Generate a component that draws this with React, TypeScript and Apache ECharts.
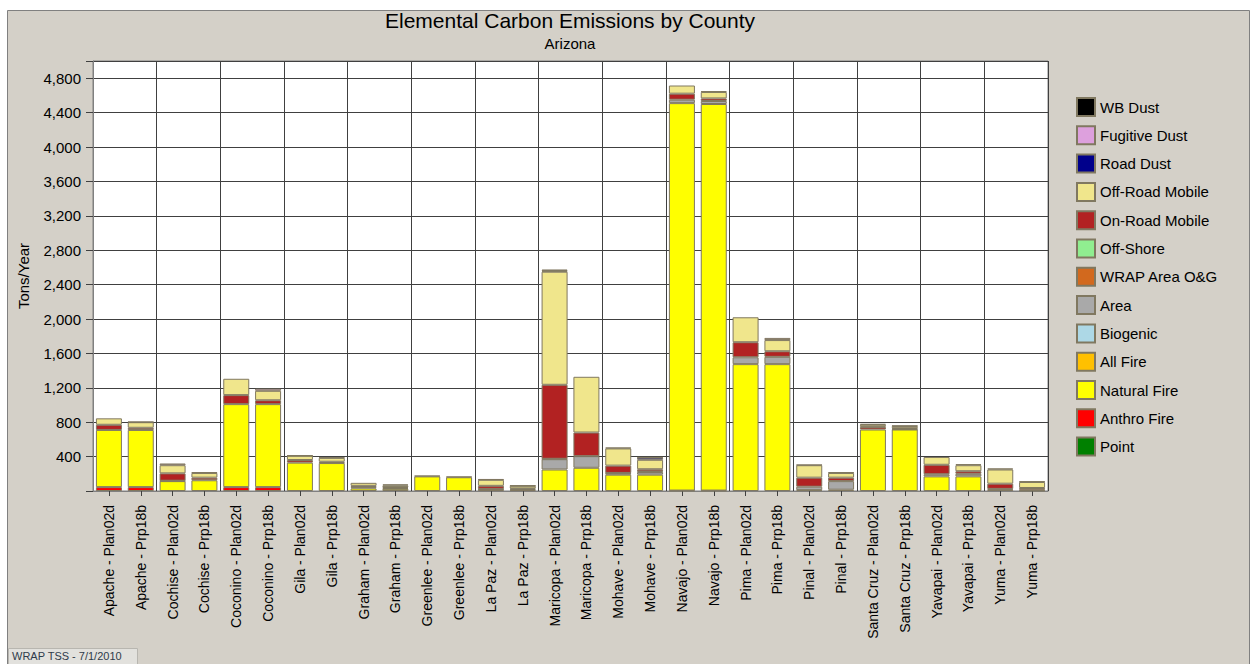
import React, { useEffect, useRef } from "react";
import * as echarts from "echarts";

const categories = [
  "Apache - Plan02d", "Apache - Prp18b",
  "Cochise - Plan02d", "Cochise - Prp18b",
  "Coconino - Plan02d", "Coconino - Prp18b",
  "Gila - Plan02d", "Gila - Prp18b",
  "Graham - Plan02d", "Graham - Prp18b",
  "Greenlee - Plan02d", "Greenlee - Prp18b",
  "La Paz - Plan02d", "La Paz - Prp18b",
  "Maricopa - Plan02d", "Maricopa - Prp18b",
  "Mohave - Plan02d", "Mohave - Prp18b",
  "Navajo - Plan02d", "Navajo - Prp18b",
  "Pima - Plan02d", "Pima - Prp18b",
  "Pinal - Plan02d", "Pinal - Prp18b",
  "Santa Cruz - Plan02d", "Santa Cruz - Prp18b",
  "Yavapai - Plan02d", "Yavapai - Prp18b",
  "Yuma - Plan02d", "Yuma - Prp18b",
];

// Stacked bottom to top
const point = [0,0,0,0,0,0,0,0,0,0,0,0,0,0,0,0,0,0,0,0,0,0,0,0,0,0,0,0,0,0];
const anthroFire = [45,45,0,0,45,45,0,0,0,0,0,0,10,0,0,0,0,0,5,5,0,0,0,0,0,0,0,0,15,5];
const naturalFire = [665,665,115,125,965,965,330,325,30,25,170,160,10,10,250,270,190,190,4505,4495,1475,1475,10,15,715,715,170,170,10,10];
const allFire = [0,0,0,0,0,0,0,0,0,0,0,0,0,0,0,0,0,0,0,0,0,0,0,0,0,0,0,0,0,0];
const biogenic = [0,0,0,0,0,0,0,0,0,0,0,0,0,0,0,0,0,0,0,0,0,0,0,0,0,0,0,0,0,0];
const area = [0,0,5,0,0,0,0,0,15,10,0,0,5,10,120,135,15,30,40,35,80,85,40,100,0,5,25,30,0,0];
const wrapAreaOG = [0,0,0,0,0,0,0,0,0,0,0,0,0,0,5,0,5,8,0,0,0,0,0,0,0,0,0,0,0,0];
const offShore = [0,0,0,0,0,0,0,0,0,0,0,0,0,0,0,0,0,0,0,0,0,0,0,0,0,0,0,0,0,0];
const onRoadMobile = [60,25,85,30,105,45,30,15,15,10,0,0,35,10,860,275,85,25,70,30,175,65,105,40,30,10,110,30,60,20];
const offRoadMobile = [75,65,95,55,190,110,50,45,35,20,8,7,70,30,1315,648,200,110,95,75,290,130,145,55,25,25,90,70,165,70];
const roadDust = [0,0,0,0,0,0,0,0,0,12,0,0,0,0,10,0,0,25,0,0,0,0,0,0,0,0,0,0,0,0];
const fugitiveDust = [0,5,20,8,0,25,5,8,0,0,0,0,8,5,0,0,10,5,0,10,0,25,5,8,10,5,0,12,12,8];
const wbDust = [0,0,0,0,0,0,0,0,0,0,0,0,0,0,15,0,0,0,0,0,0,0,0,0,0,0,0,0,0,0];

const yTicks = [400,800,1200,1600,2000,2400,2800,3200,3600,4000,4400,4800];

const seriesDefs = [
  { name: "Point", data: point, color: "#008000" },
  { name: "Anthro Fire", data: anthroFire, color: "#FF0000" },
  { name: "Natural Fire", data: naturalFire, color: "#FFFF00" },
  { name: "All Fire", data: allFire, color: "#FFC000" },
  { name: "Biogenic", data: biogenic, color: "#ADD8E6" },
  { name: "Area", data: area, color: "#A9A9A9" },
  { name: "WRAP Area O&G", data: wrapAreaOG, color: "#D2691E" },
  { name: "Off-Shore", data: offShore, color: "#90EE90" },
  { name: "On-Road Mobile", data: onRoadMobile, color: "#B22222" },
  { name: "Off-Road Mobile", data: offRoadMobile, color: "#F0E68C" },
  { name: "Road Dust", data: roadDust, color: "#00008B" },
  { name: "Fugitive Dust", data: fugitiveDust, color: "#DDA0DD" },
  { name: "WB Dust", data: wbDust, color: "#000000" },
];

const FONT = "'Liberation Sans', Arial, sans-serif";

export default function App() {
  const ref = useRef<HTMLDivElement>(null);
  useEffect(() => {
    if (!ref.current) return;
    const chart = echarts.init(ref.current, null, { renderer: "svg" });
    const option = {
      animation: false,
      backgroundColor: "#ffffff",
      textStyle: { fontFamily: FONT },
      graphic: [
        {
          type: "rect",
          z: -100,
          shape: { x: 7.5, y: 10.5, width: 1242, height: 660 },
          style: { fill: "#D4D0C8", stroke: "#808080", lineWidth: 1 },
        },
        {
          type: "text",
          x: 570, y: 20,
          style: {
            text: "Elemental Carbon Emissions by County",
            font: `21px ${FONT}`, fill: "#000",
            textAlign: "center", textVerticalAlign: "middle",
          },
        },
        {
          type: "text",
          x: 570, y: 43,
          style: {
            text: "Arizona",
            font: `15px ${FONT}`, fill: "#000",
            textAlign: "center", textVerticalAlign: "middle",
          },
        },
        {
          type: "rect",
          shape: { x: 8.5, y: 648.5, width: 129, height: 18 },
          style: { fill: "#E2E1DD", stroke: "#B8B6B0", lineWidth: 1 },
        },
        {
          type: "text",
          x: 12, y: 656,
          style: {
            text: "WRAP TSS - 7/1/2010",
            font: `11px ${FONT}`, fill: "#2F3B4A",
            textAlign: "left", textVerticalAlign: "middle",
          },
        },
      ],
      legend: {
        orient: "vertical",
        left: 1076,
        top: 97,
        padding: 0,
        itemWidth: 18,
        itemHeight: 18,
        itemGap: 8.3,
        icon: "rect",
        selectedMode: false,
        textStyle: { fontSize: 15, color: "#000", fontFamily: FONT },
        data: [
          "WB Dust", "Fugitive Dust", "Road Dust", "Off-Road Mobile", "On-Road Mobile",
          "Off-Shore", "WRAP Area O&G", "Area", "Biogenic", "All Fire",
          "Natural Fire", "Anthro Fire", "Point",
        ],
      },
      grid: {
        left: 93, right: 204, top: 61, bottom: 173,
        show: true, backgroundColor: "#ffffff", borderColor: "#808080", borderWidth: 1,
      },
      xAxis: {
        type: "category",
        data: categories,
        axisLine: { show: true, lineStyle: { color: "#808080" } },
        axisTick: { show: true, alignWithLabel: true, interval: 0, length: 5, lineStyle: { color: "#404040" } },
        axisLabel: { interval: 0, rotate: 90, fontSize: 14, color: "#000", margin: 14, fontFamily: FONT },
        splitLine: {
          show: true,
          interval: (index: number) => index % 2 === 0,
          lineStyle: { color: "#404040", width: 1 },
        },
      },
      yAxis: {
        type: "value",
        min: 0,
        max: 5000,
        interval: 400,
        name: "Tons/Year",
        nameLocation: "middle",
        nameRotate: 90,
        nameGap: 62,
        nameTextStyle: { fontSize: 15, color: "#000", fontFamily: FONT },
        axisLine: { show: true, lineStyle: { color: "#808080" } },
        axisTick: { show: true, length: 7, lineStyle: { color: "#404040" } },
        axisLabel: {
          fontSize: 15, color: "#000", margin: 12, fontFamily: FONT,
          formatter: (v: number) => (yTicks.indexOf(v) >= 0 ? v.toLocaleString("en-US") : ""),
        },
        splitLine: { show: true, lineStyle: { color: "#404040", width: 1 } },
      },
      series: seriesDefs.map((s) => ({
        name: s.name,
        type: "bar",
        stack: "total",
        barWidth: 26,
        itemStyle: { color: s.color, borderColor: "#807860", borderWidth: 1 },
        emphasis: { disabled: true },
        data: s.data.map((v) => (v === 0 ? "-" : v)),
      })),
    };
    chart.setOption(option as any);
    return () => chart.dispose();
  }, []);
  return (
    <div
      ref={ref}
      style={{ position: "fixed", left: 0, top: 0, width: 1252, height: 664 }}
    />
  );
}
